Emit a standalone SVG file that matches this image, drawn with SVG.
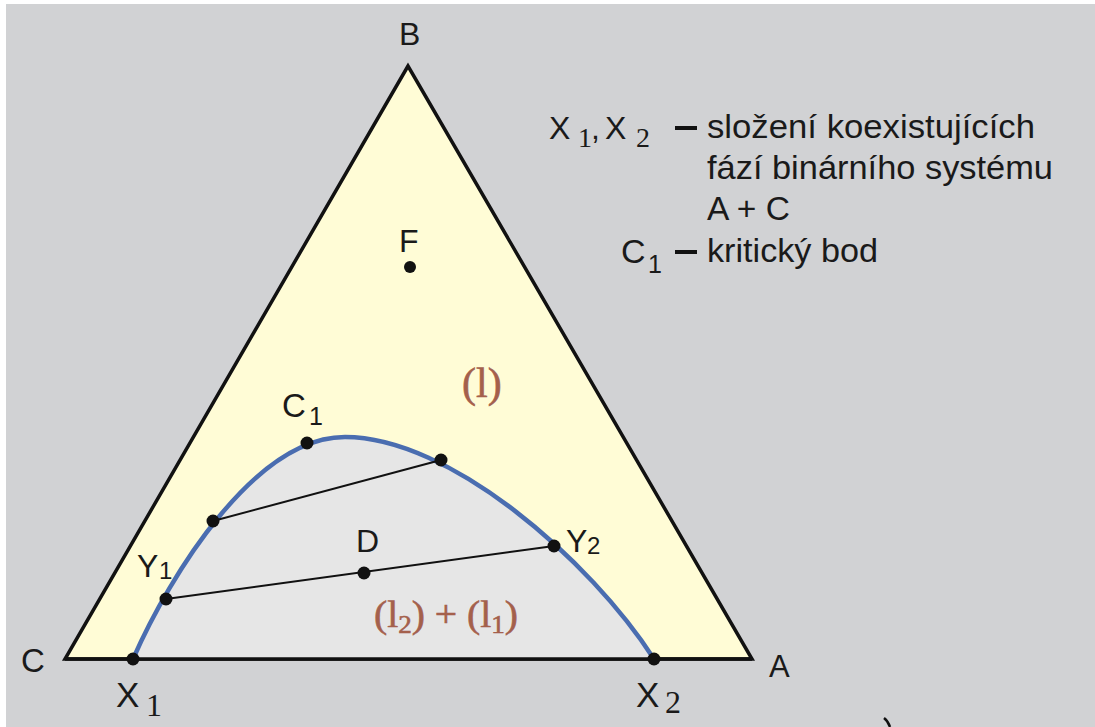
<svg xmlns="http://www.w3.org/2000/svg" width="1095" height="727" viewBox="0 0 1095 727">
<style>
.lbl{font-family:"Liberation Sans",Arial,sans-serif;fill:#1a1a1a}
.ser{font-family:"Liberation Serif","Times New Roman",serif;fill:#1a1a1a}
.brn{font-family:"Liberation Serif","Times New Roman",serif;fill:#a4604c;stroke:#a4604c;stroke-width:0.6}
.dot{fill:#111}
.tie{stroke:#111;stroke-width:2;fill:none}
.dash{stroke:#111;stroke-width:4}
</style>
<rect x="0" y="0" width="1095" height="727" fill="#ffffff"/>
<rect x="6" y="4" width="1089" height="723" fill="#d1d2d4"/>
<g id="triangle">
<polygon points="408,66 65,659 752,659" fill="#fffcd6" stroke="#111" stroke-width="3.5" stroke-linejoin="miter"/>
</g>
<g id="binodal">
<path d="M133,659 C170,575 255,437 345,437 C450,437 590,560 654,659 Z" fill="#e6e6e6" stroke="none"/>
<path d="M133,659 C170,575 255,437 345,437 C450,437 590,560 654,659" fill="none" stroke="#4a6db0" stroke-width="4.5"/>
<line x1="65" y1="659" x2="752" y2="659" stroke="#111" stroke-width="3.5"/>
</g>
<g id="connectors">
<line class="tie" x1="213" y1="521" x2="441" y2="460"/>
<line class="tie" x1="166" y1="599" x2="554" y2="546"/>
</g>
<g id="vertex-B"><text class="lbl" x="399" y="45" font-size="32">B</text></g>
<g id="vertex-C"><text class="lbl" x="21" y="672" font-size="33">C</text></g>
<g id="vertex-A"><text class="lbl" x="769" y="677" font-size="31">A</text></g>
<g id="point-F"><text class="lbl" x="399" y="252" font-size="32">F</text><circle class="dot" cx="410" cy="267" r="6"/></g>
<g id="point-C1"><circle class="dot" cx="307" cy="443" r="6.5"/><text class="lbl" x="282" y="417" font-size="33">C</text><text class="lbl" x="309" y="425" font-size="25">1</text></g>
<g id="point-tie1"><circle class="dot" cx="213" cy="521" r="6.5"/><circle class="dot" cx="441" cy="460" r="6.5"/></g>
<g id="point-Y1"><circle class="dot" cx="166" cy="599" r="6.5"/><text class="lbl" x="137" y="577" font-size="32">Y</text><text class="lbl" x="159" y="579" font-size="24">1</text></g>
<g id="point-Y2"><circle class="dot" cx="554" cy="546" r="6.5"/><text class="lbl" x="566" y="552" font-size="32">Y</text><text class="lbl" x="587" y="554" font-size="24">2</text></g>
<g id="point-D"><circle class="dot" cx="364" cy="573" r="6.5"/><text class="lbl" x="356" y="552" font-size="32">D</text></g>
<g id="point-X1"><circle class="dot" cx="133" cy="659" r="6.5"/><text class="lbl" x="116" y="707" font-size="35">X</text><text class="ser" x="146" y="716" font-size="32">1</text></g>
<g id="point-X2"><circle class="dot" cx="654" cy="659" r="6.5"/><text class="lbl" x="636" y="707" font-size="35">X</text><text class="ser" x="665" y="713" font-size="32">2</text></g>
<g id="region-l"><text class="brn" x="462" y="397" font-size="42">(l)</text></g>
<g id="region-l2l1"><text class="brn" x="374" y="627" font-size="38" textLength="144" lengthAdjust="spacingAndGlyphs">(l<tspan font-size="26" dy="6">2</tspan><tspan dy="-6">) + (l</tspan><tspan font-size="26" dy="6">1</tspan><tspan dy="-6">)</tspan></text></g>
<g id="legend">
<text class="lbl" x="549" y="139" font-size="32">X</text>
<text class="ser" x="578" y="147" font-size="28">1</text>
<text class="lbl" x="591" y="139" font-size="32">,</text>
<text class="lbl" x="605" y="139" font-size="32">X</text>
<text class="ser" x="636" y="147" font-size="28">2</text>
<line class="dash" x1="675" y1="128" x2="697" y2="128"/>
<text class="lbl" x="707" y="138" font-size="34" textLength="328" lengthAdjust="spacingAndGlyphs">složení koexistujících</text>
<text class="lbl" x="707" y="179" font-size="34" textLength="346" lengthAdjust="spacingAndGlyphs">fází binárního systému</text>
<text class="lbl" x="707" y="220" font-size="34" textLength="83" lengthAdjust="spacingAndGlyphs">A + C</text>
<text class="lbl" x="621" y="263" font-size="34">C</text>
<text class="lbl" x="648" y="273" font-size="25">1</text>
<line class="dash" x1="675" y1="252" x2="697" y2="252"/>
<text class="lbl" x="707" y="262" font-size="34" textLength="171" lengthAdjust="spacingAndGlyphs">kritický bod</text>
</g>
<path d="M884,718 Q888,721 890,727" stroke="#111" stroke-width="2.5" fill="none"/>
</svg>
